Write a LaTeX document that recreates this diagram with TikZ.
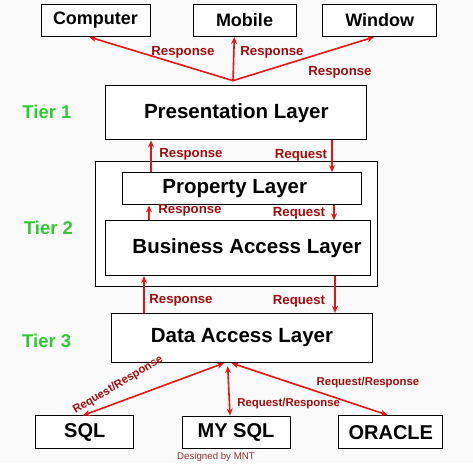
\documentclass[tikz,border=0pt]{standalone}
\usepackage{fontspec}
\setmainfont{Liberation Sans}
\usetikzlibrary{arrows.meta}

\definecolor{pagebg}{RGB}{250,250,250}
\definecolor{linkred}{RGB}{230,20,20}
\definecolor{msgred}{RGB}{160,12,12}
\definecolor{tiergreen}{RGB}{50,200,50}
\definecolor{creditred}{RGB}{150,45,45}

\tikzset{
  box/.style={rectangle,fill=white,draw=black,line width=1pt,inner sep=0pt,font=\layerfont},
  device/.style={box,font=\bfseries\fontsize{18}{20}\selectfont},
  store/.style={box,font=\bfseries\fontsize{20}{22}\selectfont},
  link/.style={draw=linkred,line width=1.6pt},
  msg/.style={text=msgred,inner sep=0pt,font=\bfseries\fontsize{13.2}{15}\selectfont},
  msgsmall/.style={text=msgred,inner sep=0pt,font=\bfseries\fontsize{11.4}{13}\selectfont},
  tier/.style={text=tiergreen,inner sep=0pt,font=\bfseries\fontsize{18.5}{20}\selectfont}
}
\newcommand{\layerfont}{\bfseries\fontsize{20.5}{22}\selectfont}

\begin{document}
\begin{tikzpicture}[x=1pt,y=-1pt,>={Stealth[length=7pt,width=6pt]}]
	\fill[pagebg] (0,0) rectangle (473,463);
	\useasboundingbox (0,0) rectangle (473,463);

	% clients
	\node[device,minimum width=109pt,minimum height=32.5pt] (computer) at (95.5,20.3) {Computer};
	\node[device,minimum width=103pt,minimum height=32.5pt] (mobile) at (244.5,20.3) {Mobile};
	\node[device,minimum width=114pt,minimum height=32.5pt] (window) at (379.7,20.3) {Window};

	% layers
	\node[box,minimum width=260.7pt,minimum height=54.3pt] (presentation) at (236.3,112.8) {Presentation Layer};
	\node[box,minimum width=282pt,minimum height=124.7pt] (tiertwo) at (236.7,224) {};
	\node[box,minimum width=239pt,minimum height=32.3pt,label={[font=\layerfont,xshift=-7.5pt]center:Property Layer}] (property) at (242.2,188.8) {};
	\node[box,minimum width=264.7pt,minimum height=55pt,label={[font=\layerfont,xshift=8.7pt]center:Business Access Layer}] (business) at (238.3,248.2) {};
	\node[box,minimum width=260.7pt,minimum height=49.3pt] (data) at (242,338) {Data Access Layer};

	% databases
	\node[store,minimum width=98.3pt,minimum height=32.5pt] (sql) at (84.8,432.2) {SQL};
	\node[store,minimum width=108pt,minimum height=32.5pt] (mysql) at (236,432.3) {MY SQL};
	\node[store,minimum width=103.7pt,minimum height=33.3pt] (oracle) at (390.8,432.3) {ORACLE};

	\node[tier] (tierone) at (47,111.5) {Tier 1};
	\node[tier] (tiertwolabel) at (48.5,228) {Tier 2};
	\node[tier] (tierthree) at (46.7,340.5) {Tier 3};

	% responses to the clients
	\coordinate (fan) at ([xshift=-3.3pt,yshift=4.5pt]presentation.north);
	\draw[link,->] (fan) -- ([xshift=-6.2pt]computer.south);
	\draw[link,->] (fan) -- ([xshift=-10.2pt]mobile.south);
	\draw[link,->] (fan) -- ([xshift=-5.7pt]window.south);
	\node[msg] (respcomputer) at (183,52) {Response};
	\node[msg] (respmobile) at (272,52.5) {Response};
	\node[msg] (respwindow) at (340,72.5) {Response};

	% presentation <-> property
	\draw[link,->] ([xshift=-91.2pt]property.north) -- ([xshift=-85.3pt]presentation.south);
	\draw[link,->] ([xshift=95.7pt]presentation.south) -- ([xshift=89.8pt]property.north);
	\node[msg] (respone) at (191,154.5) {Response};
	\node[msg] (reqone) at (301,155) {Request};

	% property <-> business
	\draw[link,->] ([xshift=-89.3pt]business.north) -- ([xshift=-93.2pt]property.south);
	\draw[link,->] ([xshift=91.8pt]property.south) -- ([xshift=95.7pt]business.north);
	\node[msg] (resptwo) at (190,210.5) {Response};
	\node[msg] (reqtwo) at (299,213.5) {Request};

	% business <-> data
	\draw[link,->] ([xshift=-98pt]data.north) -- ([xshift=-94.3pt]business.south);
	\draw[link,->] ([xshift=96.7pt]business.south) -- ([xshift=93pt]data.north);
	\node[msg] (respthree) at (181,300) {Response};
	\node[msg] (reqthree) at (299,301) {Request};

	% data <-> databases
	\draw[link,<->] ([xshift=-18pt]data.south) -- ([xshift=-2pt]sql.north);
	\draw[link,<->] ([xshift=-14.3pt,yshift=-3pt]data.south) -- ([xshift=-6pt]mysql.north);
	\draw[link,<->] ([xshift=-10.3pt]data.south) -- ([xshift=-3pt]oracle.north);
	\node[msgsmall,rotate=31] (rrsql) at (118,385) {Request/Response};
	\node[msgsmall] (rrmysql) at (288.7,403.8) {Request/Response};
	\node[msgsmall] (rroracle) at (368,382.7) {Request/Response};

	\node[text=creditred,inner sep=0pt,font=\fontsize{9.7}{11}\selectfont] (credit) at (216,456.5) {Designed by MNT};
\end{tikzpicture}
\end{document}
